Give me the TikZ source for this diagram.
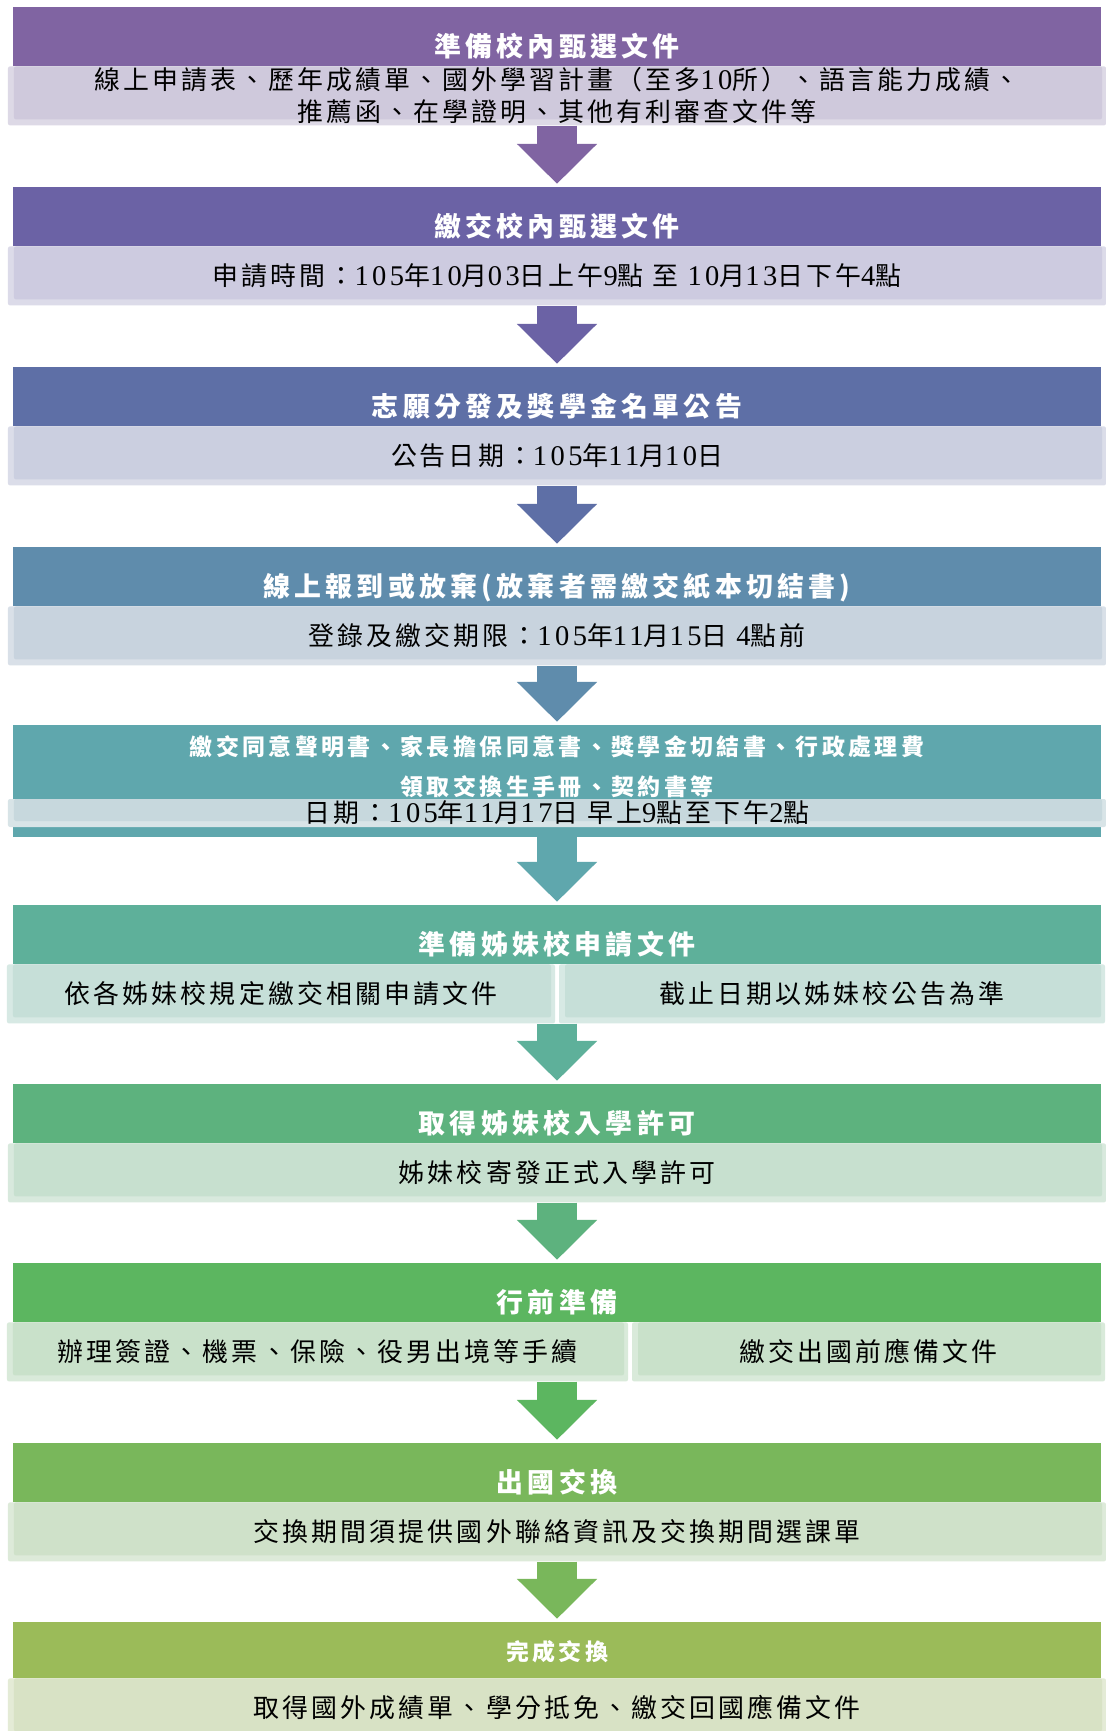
\documentclass[tikz,border=0pt]{standalone}
\usepackage{fontspec}
\setmainfont{Noto Sans CJK TC}[LetterSpace=12]
\newfontfamily\numfont{Liberation Serif}[Scale=1.1,LetterSpace=12]
\newcommand\nm[1]{{\numfont #1}}
\newcommand\titlefont{\fontsize{27}{30}\selectfont\bfseries\addfontfeature{LetterSpace=16}}
\newcommand\smalltitle{\fontsize{23}{40}\selectfont\bfseries\addfontfeature{LetterSpace=15}}
\newcommand\subfont{\fontsize{26}{32}\selectfont}
\usetikzlibrary{arrows.meta,positioning}

\definecolor{hd1}{HTML}{8064A2}\definecolor{sb1}{HTML}{CFC9DC}
\definecolor{hd2}{HTML}{6B62A5}\definecolor{sb2}{HTML}{CDCBE0}
\definecolor{hd3}{HTML}{5E6FA6}\definecolor{sb3}{HTML}{CBCFE0}
\definecolor{hd4}{HTML}{5F8CAC}\definecolor{sb4}{HTML}{C8D3DE}
\definecolor{hd5}{HTML}{5FA7AD}\definecolor{sb5}{HTML}{C7D8DD}
\definecolor{hd6}{HTML}{5EB09A}\definecolor{sb6}{HTML}{C6DFD8}
\definecolor{hd7}{HTML}{5DB27E}\definecolor{sb7}{HTML}{C7E0CF}
\definecolor{hd8}{HTML}{5CB660}\definecolor{sb8}{HTML}{C9E1CA}
\definecolor{hd9}{HTML}{79B75B}\definecolor{sb9}{HTML}{CFE1C9}
\definecolor{hd10}{HTML}{9BBB59}\definecolor{sb10}{HTML}{D8E2C5}

\begin{document}
\begin{tikzpicture}[x=1bp,y=-1bp,
head/.style={rectangle, fill=#1, text=white, font=\titlefont, minimum width=1088bp, minimum height=59bp,
  inner sep=0pt, text height=49.5bp, text depth=9.5bp},
sub/.style={rectangle, rounded corners=2bp, fill=#1!70!white, minimum width=1098bp, minimum height=59bp,
  inner sep=0pt, font=\subfont, align=center,
  path picture={\fill[#1] ([xshift=6bp]path picture bounding box.north west)
    rectangle ([xshift=-4bp,yshift=6bp]path picture bounding box.south east);}},
flow/.style={draw=#1, line width=40bp, shorten >=3bp, -{Triangle[length=40bp,width=78bp]}},
]
\path[use as bounding box, fill=white] (0,0) rectangle (1105,1731);

\node[head=hd1] (h1) at (557,36.5) {準備校內甄選文件};
\node[sub=sb1, below=0pt of h1] (s1) {線上申請表、歷年成績單、國外學習計畫（至多\nm{10}所）、語言能力成績、\\推薦函、在學證明、其他有利審查文件等};

\node[head=hd2] (h2) at (557,216.5) {繳交校內甄選文件};
\node[sub=sb2, below=0pt of h2] (s2) {申請時間：\nm{105}年\nm{10}月\nm{03}日上午\nm{9}點 至 \nm{10}月\nm{13}日下午\nm{4}點};

\node[head=hd3] (h3) at (557,396.5) {志願分發及獎學金名單公告};
\node[sub=sb3, below=0pt of h3] (s3) {公告日期：\nm{105}年\nm{11}月\nm{10}日};

\node[head=hd4] (h4) at (557,576.5) {線上報到或放棄(放棄者需繳交紙本切結書)};
\node[sub=sb4, below=0pt of h4] (s4) {登錄及繳交期限：\nm{105}年\nm{11}月\nm{15}日 \nm{4}點前};

\node[head=hd5, minimum height=112bp] (h5) at (557,781) {};
\node[sub=sb5, minimum height=28bp, above=10bp of h5.south] (s5) {日期：\nm{105}年\nm{11}月\nm{17}日 早上\nm{9}點至下午\nm{2}點};
\node[text=white, font=\smalltitle, align=center, inner sep=0pt, below=11bp of h5.north] (t5)
  {繳交同意聲明書、家長擔保同意書、獎學金切結書、行政處理費\\領取交換生手冊、契約書等};

\node[head=hd6] (h6) at (557,934.5) {準備姊妹校申請文件};
\node[sub=sb6, minimum width=548bp, below right=0bp and -6bp of h6.south west] (s6a) {依各姊妹校規定繳交相關申請文件};
\node[sub=sb6, minimum width=546bp, below left=0bp and -4bp of h6.south east] (s6b) {截止日期以姊妹校公告為準};

\node[head=hd7] (h7) at (557,1113.5) {取得姊妹校入學許可};
\node[sub=sb7, below=0pt of h7] (s7) {姊妹校寄發正式入學許可};

\node[head=hd8] (h8) at (557,1292.5) {行前準備};
\node[sub=sb8, minimum width=621bp, below right=0bp and -6bp of h8.south west] (s8a) {辦理簽證、機票、保險、役男出境等手續};
\node[sub=sb8, minimum width=473bp, below left=0bp and -4bp of h8.south east] (s8b) {繳交出國前應備文件};

\node[head=hd9] (h9) at (557,1472.5) {出國交換};
\node[sub=sb9, below=0pt of h9] (s9) {交換期間須提供國外聯絡資訊及交換期間選課單};

\node[head=hd10, font=\smalltitle, minimum height=56bp, text height=38bp, text depth=18bp] (h10) at (557,1650) {完成交換};
\node[sub=sb10, below=0pt of h10] (s10) {取得國外成績單、學分抵免、繳交回國應備文件};

% block arrows between the stages
\draw[flow=hd1] (s1) -- (h2);
\draw[flow=hd2] (s2) -- (h3);
\draw[flow=hd3] (s3) -- (h4);
\draw[flow=hd4] (s4) -- (h5);
\draw[flow=hd5] (h5) -- (h6);
\draw[flow=hd6] (h7 |- s6a.south) -- (h7);
\draw[flow=hd7] (s7) -- (h8);
\draw[flow=hd8] (h9 |- s8a.south) -- (h9);
\draw[flow=hd9] (s9) -- (h10);

\end{tikzpicture}
\end{document}
